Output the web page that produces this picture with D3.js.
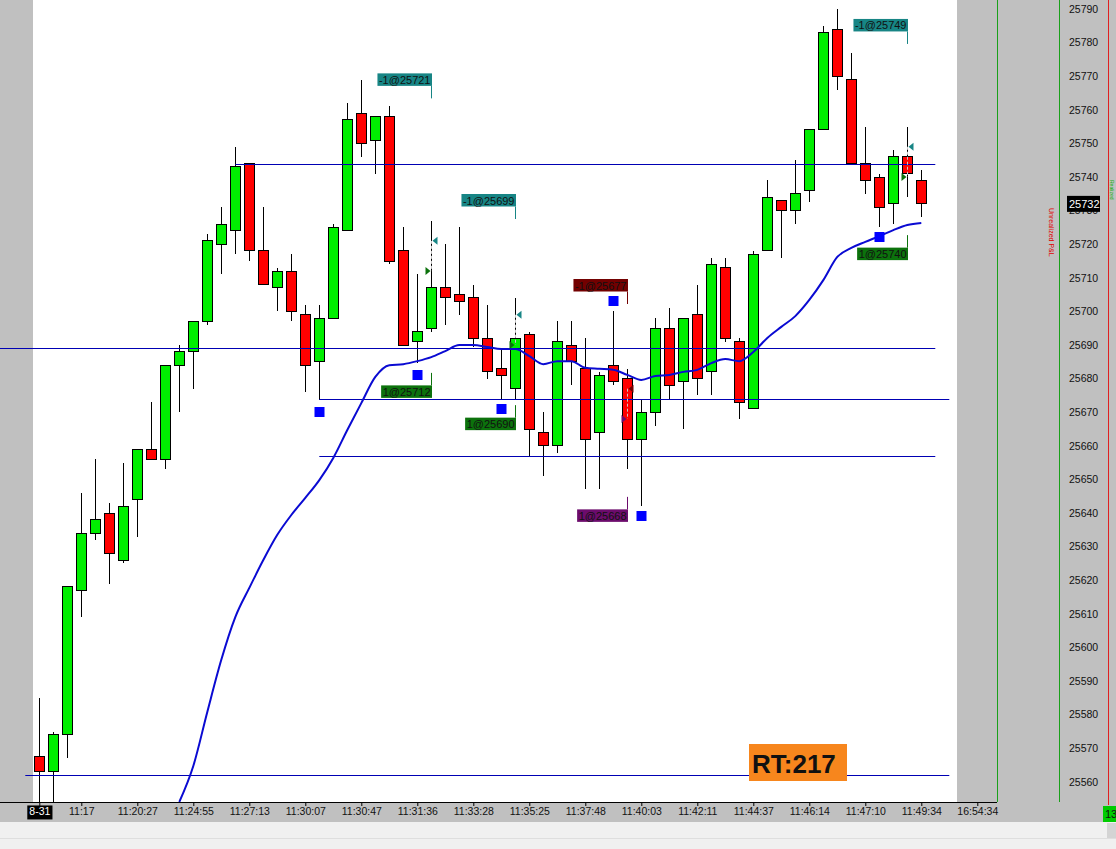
<!DOCTYPE html>
<html><head><meta charset="utf-8">
<script src="https://cdn.jsdelivr.net/npm/d3@7"></script>
<style>body{margin:0;background:#f0f0f0;overflow:hidden} svg{display:block;font-family:"Liberation Sans",Arial,sans-serif}</style>
</head><body>
<svg id="c" width="1116" height="849"></svg>
<script>
// ---- data ----
const opens  = [25567.5,25563,25574,25617,25634,25640,25626,25644,25659,25656,25684,25688,25697,25720,25724,25744,25718,25707,25712,25699,25685,25698,25724,25759,25751,25758,25718,25691,25695,25707,25705,25704,25692,25683,25677,25693,25664,25660,25690,25683,25664,25684,25680,25662,25670,25695,25679,25699,25682,25713,25691,25671,25718,25733,25730,25736,25754,25784,25769,25744,25740,25732,25746,25739];
const highs  = [25585,25574.7,25618,25646,25656,25643,25655,25659,25673,25684,25690,25697,25723,25731,25749,25744,25731,25713,25717,25702,25702,25726,25762,25769,25758,25761,25725,25711,25727,25720,25725,25708,25702,25689,25704,25694,25670,25697,25697,25692,25682,25700,25683,25674,25698,25701,25698,25708,25716,25716,25692,25718,25739,25733,25745,25754,25785,25790,25777,25755,25741,25748,25755,25742];
const lows   = [25545,25545,25567,25609,25632,25619,25625,25633,25656,25653,25670,25677,25696,25711,25717,25715,25708,25700,25697,25676,25673.6,25698,25724,25746,25741,25714,25690,25684.5,25694,25696,25699,25689.5,25680,25674,25674,25657,25651,25658,25678,25647,25647,25678,25653,25642,25666,25674,25665,25675,25675,25691,25668,25671,25718,25716,25726,25732.5,25754,25766,25744,25735,25725,25726,25734,25728];
const closes = [25563,25574,25618,25634,25638,25628,25642,25659,25656,25684,25688,25697,25721,25726,25743,25718,25708,25712,25700,25684,25698,25725,25757,25750,25758,25715,25690,25694,25707,25704,25703,25692,25682,25681,25692,25665,25660,25691,25685,25662,25681,25679,25662,25670,25695,25678,25698,25680,25714,25692,25673,25717,25734,25730,25735,25754,25783,25770,25744,25739,25731,25746,25741,25732];
const maValues = [null,null,null,null,null,null,null,null,null,null,
  25554,25564.7,25580.8,25596.3,25609,25617.7,25626,25633.5,25639.4,25644.5,
  25649.8,25656.4,25664.7,25672.7,25680.5,25684,25684.3,25685.2,25686.4,25688.2,
  25690,25690,25689.4,25688.8,25688.8,25686.7,25684.3,25685.2,25685.2,25683.2,
  25682.9,25682.6,25681.1,25679.6,25680.8,25681.1,25682,25682.6,25684.6,25685.8,
  25685.2,25687.9,25692.1,25695.4,25698.6,25703.4,25709.3,25716.2,25718.9,25720.7,
  25722.4,25724.2,25725.7,25726.3];
const timeLabels = ["8-31","11:17","11:20:27","11:24:55","11:27:13","11:30:07","11:30:47","11:31:36","11:33:28","11:35:25","11:37:48","11:40:03","11:42:11","11:44:37","11:46:14","11:47:10","11:49:34","16:54:34"];
const timeTickIndex = [0,3,7,11,15,19,23,27,31,35,39,43,47,51,55,59,63,67];
const levelPrices = [25744,25689,25674,25657,25562];
const levelFrom   = [14,-2.81,20,20,-1];
const levelTo     = [64,64,65,64,65];
const tradeCandle = [28,34,42,62];
const sellPrice   = [25721,25699,25677,25749];
const buyPrice    = [25712,25690,25668,25740];
const sellColor   = ["#178585","#178585","#730000","#178585"];
const buyColor    = ["#0c720c","#0c720c","#6c0c6c","#0c720c"];
const sellAnchor  = [25763.4,25727.5,25702.2,25779.6];
const buyAnchor   = [25681.7,25672.1,25644.8,25722.7];
const markerCandle = [20,27,33,41,43,60];
const markerPrice  = [25670.1,25681.1,25671,25703.1,25639.1,25722.1];
const priceTicks = d3.range(25560,25791,10);
const lastPrice = 25732;
const rtText = "RT:217";

// ---- layout ----
const W=1116,H=849;
const x = d3.scaleLinear().domain([0,63]).range([39.3,921.3]);
const y = d3.scaleLinear().domain([25560,25790]).range([781.8,9]);
const svg = d3.select("#c");

svg.append("rect").attr("width",W).attr("height",H).attr("fill","#f0f0f0");
svg.append("rect").attr("x",0).attr("y",0).attr("width",W).attr("height",822).attr("fill","#c0c0c0");
svg.append("rect").attr("x",33).attr("y",0).attr("width",924).attr("height",802).attr("fill","#ffffff");
svg.append("line").attr("x1",0).attr("x2",W).attr("y1",838.5).attr("y2",838.5).attr("stroke","#dedede");
svg.append("rect").attr("x",1107).attr("y",823).attr("width",9).attr("height",15).attr("fill","#d4d4d4");

svg.append("defs").append("clipPath").attr("id","plot").append("rect").attr("x",33).attr("y",0).attr("width",924).attr("height",802);

// candles
const idx = d3.range(opens.length);
const cg = svg.append("g").attr("clip-path","url(#plot)").attr("shape-rendering","crispEdges");
cg.selectAll("line.w").data(idx).join("line")
  .attr("x1",i=>Math.round(x(i))+0.5).attr("x2",i=>Math.round(x(i))+0.5)
  .attr("y1",i=>y(highs[i])).attr("y2",i=>y(lows[i])).attr("stroke","#000");
cg.selectAll("rect.b").data(idx).join("rect")
  .attr("x",i=>Math.round(x(i))-4.5).attr("width",10)
  .attr("y",i=>y(Math.max(opens[i],closes[i])))
  .attr("height",i=>Math.max(1,Math.abs(y(opens[i])-y(closes[i]))))
  .attr("fill",i=>closes[i]>=opens[i]?"#00ee00":"#ff0000").attr("stroke","#000");

// horizontal levels
svg.append("g").selectAll("line").data(levelPrices).join("line")
  .attr("x1",(d,k)=>Math.max(0,x(levelFrom[k]))).attr("x2",(d,k)=>x(levelTo[k]))
  .attr("y1",d=>Math.round(y(d))+0.5).attr("y2",d=>Math.round(y(d))+0.5)
  .attr("stroke","#0000b4").attr("stroke-width",1);

// MA line
const maLine = d3.line().defined(d=>d!==null).x((d,i)=>x(i)).y(d=>y(d)).curve(d3.curveMonotoneX);
svg.append("path").attr("clip-path","url(#plot)").datum(maValues).attr("d",maLine)
  .attr("fill","none").attr("stroke","#0a0ad2").attr("stroke-width",2);

// trade dashed lines & arrows
const tg = svg.append("g");
tradeCandle.forEach((c,k)=>{
  const cx = Math.round(x(c))+0.5;
  tg.append("line").attr("x1",cx).attr("x2",cx).attr("y1",y(sellPrice[k])).attr("y2",y(buyPrice[k]))
    .attr("stroke","#c8c8c8").attr("stroke-dasharray","3,2");
  const ys=y(sellPrice[k]), yb=y(buyPrice[k]);
  tg.append("path").attr("d",`M${cx+6},${ys-4}L${cx+1},${ys}L${cx+6},${ys+4}Z`).attr("fill",sellColor[k]);
  tg.append("path").attr("d",`M${cx-6},${yb-4}L${cx-1},${yb}L${cx-6},${yb+4}Z`).attr("fill",buyColor[k]);
});

// blue squares
svg.append("g").selectAll("rect").data(markerCandle).join("rect")
  .attr("x",(c)=>Math.round(x(c))-4.5).attr("y",(c,k)=>Math.round(y(markerPrice[k]))-5)
  .attr("width",10).attr("height",10).attr("fill","#0000ff");

// trade labels
const lg = svg.append("g").attr("font-size","11px");
function tradeLabel(c, anchor, text, color, above){
  const cx = Math.round(x(c))+0.5, ay = y(anchor);
  const t = lg.append("text").text(text).attr("fill","#111");
  const w = t.node().getComputedTextLength()+3;
  const by = above ? ay-25 : ay+12.5;
  lg.insert("rect","text").attr("x",cx-w+0.5).attr("y",by).attr("width",w).attr("height",12.5).attr("fill",color);
  lg.append("line").attr("x1",cx).attr("x2",cx).attr("y1",above?ay-12.5:ay).attr("y2",above?ay:ay+12.5).attr("stroke",color);
  t.attr("x",cx-w+2).attr("y",by+10.5);
}
tradeCandle.forEach((c,k)=>{
  tradeLabel(c, sellAnchor[k], "-1@"+sellPrice[k], sellColor[k], true);
  tradeLabel(c, buyAnchor[k], "1@"+buyPrice[k], buyColor[k], false);
});

// RT box
const rb = svg.append("g");
rb.append("rect").attr("x",749).attr("y",744).attr("width",98).attr("height",37).attr("fill","#f7861d");
rb.append("text").attr("x",752).attr("y",773).attr("font-size","26px").attr("font-weight","bold").attr("fill","#111").text(rtText);

// right panel lines
svg.append("line").attr("x1",997.5).attr("x2",997.5).attr("y1",0).attr("y2",802).attr("stroke","#19a019");
svg.append("line").attr("x1",1059.5).attr("x2",1059.5).attr("y1",0).attr("y2",802).attr("stroke","#19a019");
svg.append("line").attr("x1",1108.5).attr("x2",1108.5).attr("y1",0).attr("y2",805).attr("stroke","#e02020");

// right price axis
const yAxis = d3.axisRight(y).tickValues(priceTicks).tickSize(0).tickPadding(0).tickFormat(d3.format("d"));
const ya = svg.append("g").attr("transform","translate(1069,0)").call(yAxis);
ya.select(".domain").remove();
ya.selectAll("text").attr("font-size","10.5px").attr("fill","#111").attr("font-family","Liberation Sans, Arial, sans-serif");
// last price box
svg.append("rect").attr("x",1067).attr("y",y(lastPrice)-8).attr("width",33).attr("height",16).attr("fill","#000");
svg.append("text").attr("x",1069).attr("y",y(lastPrice)+4).attr("font-size","11px").attr("fill","#fff").text(lastPrice);

// tiny vertical texts
svg.append("text").attr("transform","translate(1049,208) rotate(90)").attr("font-size","7px").attr("fill","#e00000").text("Unrealized P&L");
svg.append("text").attr("transform","translate(1110,180) rotate(90)").attr("font-size","5px").attr("fill","#10b010").text("Realized");

// bottom time axis
const xAxis = d3.axisBottom(x).tickValues(timeTickIndex).tickSize(4).tickPadding(2)
  .tickFormat((d,k)=>timeLabels[k]);
const xa = svg.append("g").attr("transform","translate(0,802)").call(xAxis);
xa.select(".domain").attr("d","M0,0.5H997");
xa.selectAll("line").attr("stroke","#000");
xa.selectAll("text").attr("font-size","10.5px").attr("fill","#111").attr("font-family","Liberation Sans, Arial, sans-serif");
// date label box
const first = xa.select(".tick text");
const bb = first.node().getBBox();
xa.select(".tick").insert("rect","text").attr("x",bb.x-2).attr("y",bb.y).attr("width",bb.width+4).attr("height",bb.height+2).attr("fill","#000");
first.attr("fill","#fff");
svg.append("line").attr("x1",0).attr("x2",997).attr("y1",802.5).attr("y2",802.5).attr("stroke","#000");

// bottom-right green box
svg.append("rect").attr("x",1103).attr("y",806).attr("width",13).attr("height",16).attr("fill","#00cc00");
svg.append("text").attr("x",1105).attr("y",818).attr("font-size","11px").attr("fill","#111").text("13");
</script>
</body></html>
